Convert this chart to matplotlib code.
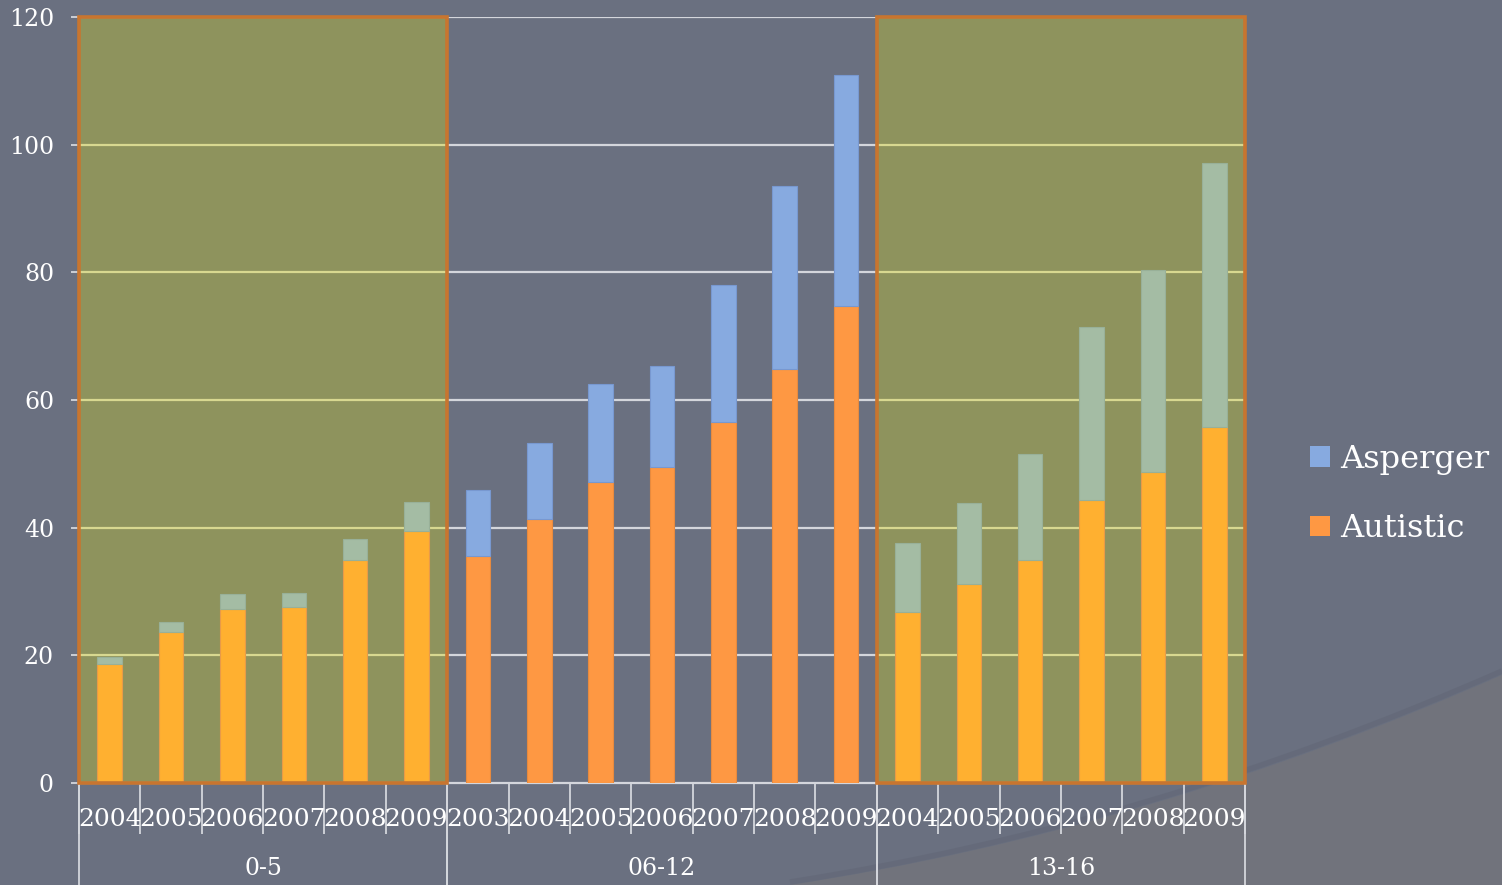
import numpy as np
import matplotlib
matplotlib.use("Agg")
import matplotlib.pyplot as plt
from matplotlib.patches import Rectangle, PathPatch, Patch
from matplotlib.path import Path
import matplotlib.transforms as mtransforms

# age groups and years
groups = ['0-5', '06-12', '13-16']
years_05 = ['2004', '2005', '2006', '2007', '2008', '2009']
years_0612 = ['2003', '2004', '2005', '2006', '2007', '2008', '2009']
years_1316 = ['2004', '2005', '2006', '2007', '2008', '2009']

autistic_05 = [18.7, 23.7, 27.3, 27.5, 34.9, 39.5]
asperger_05 = [1.1, 1.5, 2.3, 2.3, 3.3, 4.5]
autistic_0612 = [35.6, 41.3, 47.2, 49.5, 56.6, 64.8, 74.7]
asperger_0612 = [10.3, 11.9, 15.3, 15.8, 21.4, 28.7, 36.2]
autistic_1316 = [26.8, 31.2, 34.9, 44.4, 48.7, 55.7]
asperger_1316 = [10.8, 12.6, 16.6, 27.1, 31.7, 41.4]

highlighted = [True, False, True]

years = [years_05, years_0612, years_1316]
autistic = [autistic_05, autistic_0612, autistic_1316]
asperger = [asperger_05, asperger_0612, asperger_1316]

bg = '#6a7080'
bg_low = '#71737c'
green = '#8e935d'
box_edge = '#c8752f'
c_aut = '#fe9843'
c_asp = '#87aae0'
c_aut_hl = '#ffb030'
c_asp_hl = '#a4bca4'
grid_w = '#d4d6dc'
grid_hl = '#d8d890'

plt.rcParams['font.family'] = ['DejaVu Serif']

W, H = 1502, 885
fig = plt.figure(figsize=(W / 100, H / 100), dpi=100)
fig.patch.set_facecolor(bg)

# background swoosh at lower right
def fx(x, y):
    return (x / W, 1 - y / H)

verts = [fx(790, 885), fx(1150, 830), fx(1502, 675), fx(1502, 885), fx(790, 885)]
codes = [Path.MOVETO, Path.CURVE3, Path.CURVE3, Path.LINETO, Path.CLOSEPOLY]
fig.patches.append(PathPatch(Path(verts, codes), transform=fig.transFigure,
                             facecolor=bg_low, edgecolor='none', zorder=0))
shadow = [fx(790, 882), fx(1150, 826), fx(1502, 671)]
fig.patches.append(PathPatch(Path(shadow, [Path.MOVETO, Path.CURVE3, Path.CURVE3]),
                             transform=fig.transFigure, facecolor='none',
                             edgecolor='#5c6170', lw=4, alpha=0.35, zorder=0))

ax = fig.add_axes([79 / W, 1 - 783 / H, (1245 - 79) / W, (783 - 17) / H])
ax.set_facecolor('none')
ax.set_zorder(2)

n_total = sum(len(y) for y in years)
ax.set_xlim(-0.5, n_total - 0.5)
ax.set_ylim(0, 120)

trans = mtransforms.blended_transform_factory(ax.transData, ax.transAxes)

start = 0
for g in range(len(groups)):
    n = len(years[g])
    x = np.arange(start, start + n)
    left, right = start - 0.5, start + n - 0.5
    hl = highlighted[g]
    if hl:
        ax.add_patch(Rectangle((left, 0), n, 120, facecolor=green, edgecolor='none', zorder=0.5))
    # gridlines
    for yv in [20, 40, 60, 80, 100, 120]:
        ax.plot([left, right], [yv, yv], color=grid_hl if hl else grid_w, lw=1.6, zorder=1)
    ca = c_aut_hl if hl else c_aut
    cs = c_asp_hl if hl else c_asp
    ax.bar(x, autistic[g], width=0.4, color=ca, edgecolor='#e89a48' if hl else '#e88a3e', lw=0.8, zorder=2)
    ax.bar(x, asperger[g], width=0.4, bottom=autistic[g], color=cs,
           edgecolor='#98b098' if hl else '#7898d0', lw=0.8, zorder=2)
    if hl:
        ax.add_patch(Rectangle((left, 0), n, 120, facecolor='none', edgecolor=box_edge,
                               lw=2.6, zorder=5, clip_on=False))
    # year labels
    for xi, yr in zip(x, years[g]):
        ax.text(xi, -0.047, yr, transform=trans, ha='center', va='center',
                fontsize=18, color='white')
    # group label
    ax.text((left + right) / 2, -0.112, groups[g], transform=trans, ha='center',
            va='center', fontsize=17, color='white')
    # group separators
    ax.plot([left, left], [0, -0.133], transform=trans, color=grid_w, lw=1.3, clip_on=False, zorder=1)
    ax.plot([right, right], [0, -0.133], transform=trans, color=grid_w, lw=1.3, clip_on=False, zorder=1)
    start += n

# category separators below axis
ax.set_xticks(np.arange(-0.5, n_total, 1.0))
ax.set_xticklabels([])
ax.tick_params(axis='x', length=37, width=1.3, color=grid_w, direction='out')

ax.set_yticks([0, 20, 40, 60, 80, 100, 120])
ax.tick_params(axis='y', length=6, width=1.3, color=grid_w, labelcolor='white',
               labelsize=17, pad=12)

for s in ['top', 'right', 'left']:
    ax.spines[s].set_visible(False)
ax.spines['bottom'].set_color(grid_w)
ax.spines['bottom'].set_linewidth(1.6)
ax.spines['bottom'].set_zorder(1)

handles = [Patch(facecolor=c_asp, label='Asperger'), Patch(facecolor=c_aut, label='Autistic')]
fig.legend(handles=handles, loc='upper left', bbox_to_anchor=(1294 / W, 1 - 428 / H),
           frameon=False, fontsize=23, labelcolor='white', handlelength=0.62,
           handleheight=0.62, handletextpad=0.32, labelspacing=1.2, borderpad=0)

fig.savefig('out.png', dpi=100, facecolor=bg)
